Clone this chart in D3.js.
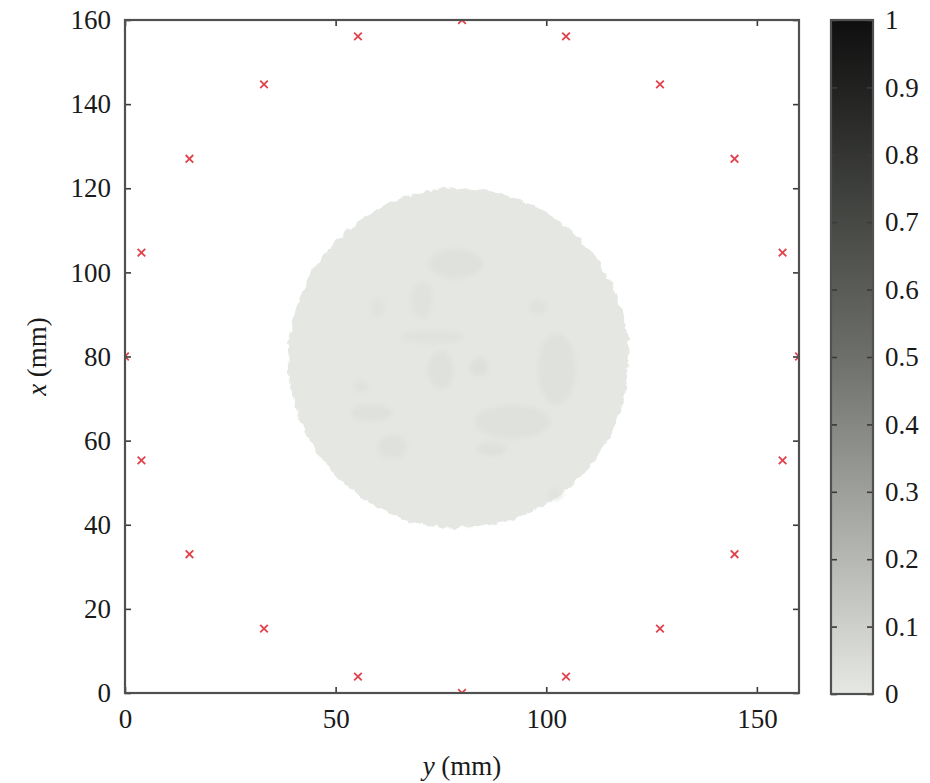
<!DOCTYPE html>
<html>
<head>
<meta charset="utf-8">
<script src="https://cdn.jsdelivr.net/npm/d3@7"></script>
<style>
  html, body { margin: 0; padding: 0; background: #fff; }
  svg { display: block; }
  text { font-family: "Liberation Serif", "DejaVu Serif", serif; }
</style>
</head>
<body>
<svg id="chart" width="930" height="783"></svg>
<script>
// Axis ticks
const yAxisTicks = [0, 50, 100, 150];                 // horizontal axis, y (mm)
const xAxisTicks = [0, 20, 40, 60, 80, 100, 120, 140, 160]; // vertical axis, x (mm)
const colorTicks = [0, 0.1, 0.2, 0.3, 0.4, 0.5, 0.6, 0.7, 0.8, 0.9, 1];

// Electrode positions around the tank boundary (mm)
const electrodeY = [80, 104.7, 127.0, 144.7, 156.1, 160, 156.1, 144.7, 127.0, 104.7,
                    80, 55.3, 33.0, 15.3, 3.9, 0, 3.9, 15.3, 33.0, 55.3];
const electrodeX = [160, 156.1, 144.7, 127.0, 104.7, 80, 55.3, 33.0, 15.3, 3.9,
                    0, 3.9, 15.3, 33.0, 55.3, 80, 104.7, 127.0, 144.7, 156.1];

// Reconstructed inclusion: centre (y, x), radius (mm) and conductivity value
const inclusionY = [79.2];
const inclusionX = [79.6];
const inclusionR = [40.4];
const inclusionValue = [0.005];

// Slightly darker patches inside the inclusion
const patchY  = [78.5, 70.5, 73.0, 75.0, 84.0, 102.5, 92.0, 87.0, 56.0, 58.5, 63.5, 98.0, 60.0, 102.0];
const patchX  = [102.0, 93.5, 84.6, 76.8, 77.5, 77.0, 64.5, 58.0, 72.8, 66.6, 58.5, 91.8, 91.8, 47.5];
const patchRy = [6.5, 2.5, 7.5, 3.0, 2.2, 4.5, 9.0, 3.5, 2.0, 5.0, 3.5, 2.2, 1.8, 1.8];
const patchRx = [3.5, 4.5, 1.6, 4.5, 2.2, 8.5, 4.0, 1.8, 1.5, 2.0, 2.8, 1.8, 2.5, 1.5];
const patchValue = [0.03, 0.025, 0.025, 0.028, 0.035, 0.028, 0.028, 0.028, 0.025, 0.028, 0.028, 0.025, 0.022, 0.022];

// Grey colour map used for the image and the colour bar
const colorStops = [0, 0.5, 1];
const colorStopValues = ["#e6e8e4", "#6d6f6a", "#0e0f0e"];

const svg = d3.select("#chart");

const plot = { left: 125, right: 799, top: 20, bottom: 693 };
const ys = d3.scaleLinear().domain([0, 160]).range([plot.left, plot.right]);
const xs = d3.scaleLinear().domain([0, 160]).range([plot.bottom, plot.top]);
const color = d3.scaleLinear().domain(colorStops).range(colorStopValues).clamp(true);

const defs = svg.append("defs");
defs.append("clipPath").attr("id", "plotClip")
  .append("rect")
  .attr("x", plot.left).attr("y", plot.top)
  .attr("width", plot.right - plot.left).attr("height", plot.bottom - plot.top);

// rough, pixelated edge for the reconstructed region
const rough = defs.append("filter").attr("id", "rough")
  .attr("x", "-10%").attr("y", "-10%").attr("width", "120%").attr("height", "120%");
rough.append("feTurbulence").attr("type", "fractalNoise")
  .attr("baseFrequency", 0.12).attr("numOctaves", 2).attr("seed", 4).attr("result", "noise");
rough.append("feDisplacementMap").attr("in", "SourceGraphic").attr("in2", "noise")
  .attr("scale", 7).attr("xChannelSelector", "R").attr("yChannelSelector", "G");

const soft = defs.append("filter").attr("id", "soft")
  .attr("x", "-50%").attr("y", "-50%").attr("width", "200%").attr("height", "200%");
soft.append("feGaussianBlur").attr("stdDeviation", 2.5);

// Image of the reconstruction
const img = svg.append("g").attr("clip-path", "url(#plotClip)");
img.selectAll("ellipse.inclusion")
  .data(d3.range(inclusionY.length))
  .join("ellipse")
  .attr("class", "inclusion")
  .attr("cx", i => ys(inclusionY[i]))
  .attr("cy", i => xs(inclusionX[i]))
  .attr("rx", i => ys(inclusionR[i]) - ys(0))
  .attr("ry", i => xs(0) - xs(inclusionR[i]))
  .attr("fill", i => color(inclusionValue[i]))
  .attr("filter", "url(#rough)");

img.append("g").attr("filter", "url(#soft)")
  .selectAll("ellipse")
  .data(d3.range(patchY.length))
  .join("ellipse")
  .attr("cx", i => ys(patchY[i]))
  .attr("cy", i => xs(patchX[i]))
  .attr("rx", i => ys(patchRy[i]) - ys(0))
  .attr("ry", i => xs(0) - xs(patchRx[i]))
  .attr("fill", i => color(patchValue[i]));

// Electrodes
img.append("g").selectAll("path")
  .data(d3.range(electrodeY.length))
  .join("path")
  .attr("transform", i => `translate(${ys(electrodeY[i])},${xs(electrodeX[i])})`)
  .attr("d", "M-3.8,-3.8L3.8,3.8M-3.8,3.8L3.8,-3.8")
  .attr("stroke", "#e2424c")
  .attr("stroke-width", 1.8)
  .attr("fill", "none");

// Axes (ticks point inwards, mirrored on all four sides)
const tickLen = 6;
const fontSize = 27;
function styleAxis(g) {
  g.select(".domain").remove();
  g.selectAll(".tick line").attr("stroke", "#3a3a3a").attr("stroke-width", 1.6);
  g.selectAll(".tick text")
    .attr("fill", "#1a1a1a")
    .style("font-size", fontSize + "px")
    .style("font-family", '"Liberation Serif", "DejaVu Serif", serif');
}

svg.append("g").attr("transform", `translate(0,${plot.bottom})`)
  .call(d3.axisBottom(ys).tickValues(yAxisTicks).tickSize(-tickLen).tickPadding(16).tickFormat(d => d))
  .call(styleAxis);
svg.append("g").attr("transform", `translate(0,${plot.top})`)
  .call(d3.axisTop(ys).tickValues(yAxisTicks).tickSize(-tickLen).tickFormat(""))
  .call(styleAxis);
svg.append("g").attr("transform", `translate(${plot.left},0)`)
  .call(d3.axisLeft(xs).tickValues(xAxisTicks).tickSize(-tickLen).tickPadding(14).tickFormat(d => d))
  .call(styleAxis);
svg.append("g").attr("transform", `translate(${plot.right},0)`)
  .call(d3.axisRight(xs).tickValues(xAxisTicks).tickSize(-tickLen).tickFormat(""))
  .call(styleAxis);

// Plot frame
svg.append("rect")
  .attr("x", plot.left).attr("y", plot.top)
  .attr("width", plot.right - plot.left).attr("height", plot.bottom - plot.top)
  .attr("fill", "none").attr("stroke", "#505050").attr("stroke-width", 2.2);

// Axis titles
const yTitle = svg.append("text")
  .attr("x", (plot.left + plot.right) / 2).attr("y", 775)
  .attr("text-anchor", "middle")
  .style("font-size", fontSize + "px").attr("fill", "#1a1a1a");
yTitle.append("tspan").style("font-style", "italic").text("y");
yTitle.append("tspan").text(" (mm)");

const xTitle = svg.append("text")
  .attr("transform", `translate(46,${(plot.top + plot.bottom) / 2}) rotate(-90)`)
  .attr("text-anchor", "middle")
  .style("font-size", fontSize + "px").attr("fill", "#1a1a1a");
xTitle.append("tspan").style("font-style", "italic").text("x");
xTitle.append("tspan").text(" (mm)");

// Colour bar
const cb = { left: 831, right: 873, top: 20, bottom: 694 };
const cs = d3.scaleLinear().domain([0, 1]).range([cb.bottom, cb.top]);
const grad = defs.append("linearGradient").attr("id", "cbGrad")
  .attr("x1", 0).attr("y1", 1).attr("x2", 0).attr("y2", 0);
grad.selectAll("stop")
  .data(d3.range(colorStops.length))
  .join("stop")
  .attr("offset", i => colorStops[i])
  .attr("stop-color", i => colorStopValues[i]);

svg.append("rect")
  .attr("x", cb.left).attr("y", cb.top)
  .attr("width", cb.right - cb.left).attr("height", cb.bottom - cb.top)
  .attr("fill", "url(#cbGrad)");

svg.append("g").attr("transform", `translate(${cb.right},0)`)
  .call(d3.axisRight(cs).tickValues(colorTicks).tickSize(-tickLen).tickPadding(12).tickFormat(d => d))
  .call(styleAxis);
svg.append("g").attr("transform", `translate(${cb.left},0)`)
  .call(d3.axisLeft(cs).tickValues(colorTicks).tickSize(-tickLen).tickFormat(""))
  .call(styleAxis);

svg.append("rect")
  .attr("x", cb.left).attr("y", cb.top)
  .attr("width", cb.right - cb.left).attr("height", cb.bottom - cb.top)
  .attr("fill", "none").attr("stroke", "#505050").attr("stroke-width", 2.2);
</script>
</body>
</html>
